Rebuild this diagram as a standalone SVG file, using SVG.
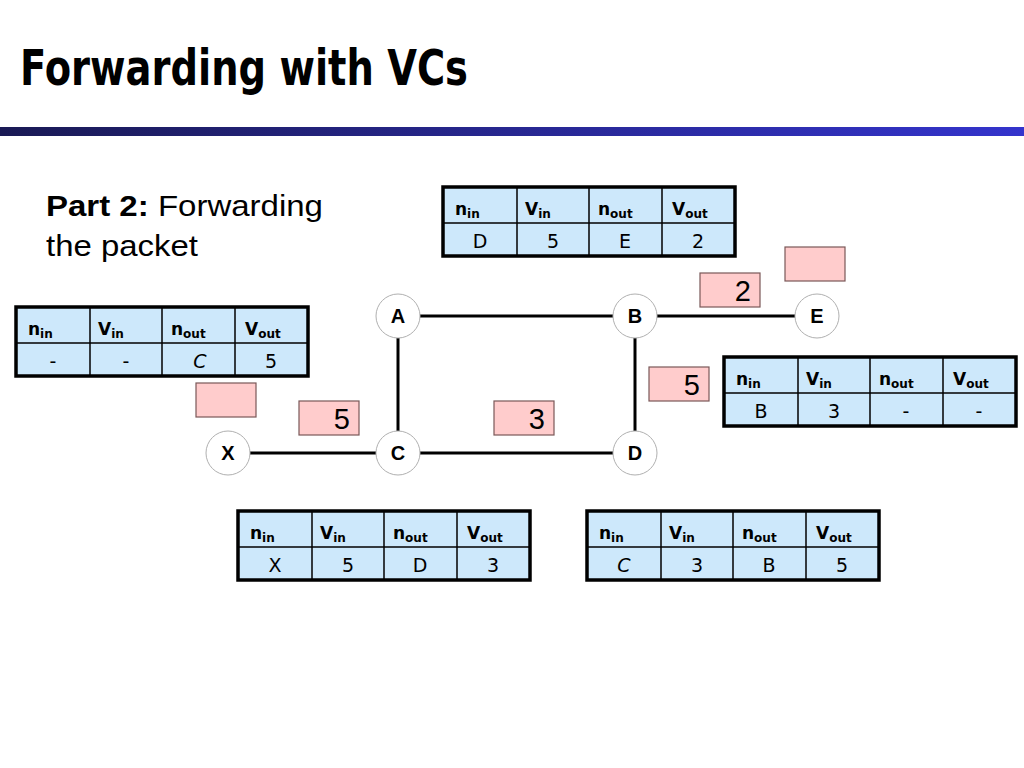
<svg xmlns="http://www.w3.org/2000/svg" xmlns:xlink="http://www.w3.org/1999/xlink" width="1024" height="768" viewBox="0 0 1024 768">
<style>
.title{font-family:"Comic Sans MS","DejaVu Sans",sans-serif;font-weight:bold;font-size:50px;fill:#000}
.part{font-family:"Liberation Sans",Arial,sans-serif;font-size:30px;fill:#000}
.hd{font-family:"Comic Sans MS","DejaVu Sans",sans-serif;font-size:17px;font-weight:bold;fill:#000}
.sub{font-size:12px}
.cell{font-family:"Comic Sans MS","DejaVu Sans",sans-serif;font-size:19px;fill:#000;text-anchor:middle}
.node circle{fill:#fff;stroke:#b0b0b0;stroke-width:1}
.node text{font-family:"Liberation Sans",Arial,sans-serif;font-weight:bold;font-size:20px;text-anchor:middle;fill:#000}
.lbl rect{fill:#ffcccc;stroke:#7a5858;stroke-width:1.2}
.lbl text{font-family:"Liberation Sans",Arial,sans-serif;font-size:29px;text-anchor:end;fill:#000}
.edge{stroke:#000;stroke-width:3;fill:none}
</style>
<defs>
<linearGradient id="bar" x1="0" y1="0" x2="1" y2="0">
<stop offset="0" stop-color="#1a1a55"/>
<stop offset="1" stop-color="#3434cc"/>
</linearGradient>
<g id="grid">
<rect x="0" y="0" width="292" height="69" fill="#cde8fb" stroke="none"/>
<g stroke="#000" stroke-width="1.5">
<line x1="74" y1="0" x2="74" y2="69"/>
<line x1="146" y1="0" x2="146" y2="69"/>
<line x1="219" y1="0" x2="219" y2="69"/>
<line x1="0" y1="36" x2="292" y2="36"/>
</g>
<rect x="0" y="0" width="292" height="69" fill="none" stroke="#000" stroke-width="3.5"/>
</g>
<g id="heads">
<text class="hd" x="12" y="28">n<tspan class="sub" dy="3">in</tspan></text>
<text class="hd" x="82" y="28">V<tspan class="sub" dy="3">in</tspan></text>
<text class="hd" x="155" y="28">n<tspan class="sub" dy="3">out</tspan></text>
<text class="hd" x="229" y="28">V<tspan class="sub" dy="3">out</tspan></text>
</g>
</defs>
<rect width="1024" height="768" fill="#fff"/>
<text class="title" x="20" y="85" textLength="448" lengthAdjust="spacingAndGlyphs">Forwarding with VCs</text>
<rect x="0" y="127" width="1024" height="9" fill="url(#bar)"/>
<text class="part" x="46" y="216" textLength="277" lengthAdjust="spacingAndGlyphs"><tspan font-weight="bold">Part 2:</tspan> Forwarding</text>
<text class="part" x="46" y="256" textLength="152" lengthAdjust="spacingAndGlyphs">the packet</text>

<g id="connectors">
<line class="edge" x1="420" y1="316" x2="613" y2="316"/>
<line class="edge" x1="657" y1="316" x2="795" y2="316"/>
<line class="edge" x1="398" y1="338" x2="398" y2="431"/>
<line class="edge" x1="635" y1="338" x2="635" y2="431"/>
<line class="edge" x1="250" y1="453" x2="376" y2="453"/>
<line class="edge" x1="420" y1="453" x2="613" y2="453"/>
</g>

<g id="node-A" class="node"><circle cx="398" cy="316" r="22"/><text x="398" y="323">A</text></g>
<g id="node-B" class="node"><circle cx="635" cy="316" r="22"/><text x="635" y="323">B</text></g>
<g id="node-E" class="node"><circle cx="817" cy="316" r="22"/><text x="817" y="323">E</text></g>
<g id="node-X" class="node"><circle cx="228" cy="453" r="22"/><text x="228" y="460">X</text></g>
<g id="node-C" class="node"><circle cx="398" cy="453" r="22"/><text x="398" y="460">C</text></g>
<g id="node-D" class="node"><circle cx="635" cy="453" r="22"/><text x="635" y="460">D</text></g>

<g id="label-empty-E" class="lbl"><rect x="785" y="247" width="60" height="34"/></g>
<g id="label-2" class="lbl"><rect x="700" y="273" width="60" height="34"/><text x="751" y="301">2</text></g>
<g id="label-5-BD" class="lbl"><rect x="649" y="367" width="60" height="34"/><text x="700" y="395">5</text></g>
<g id="label-empty-X" class="lbl"><rect x="196" y="383" width="60" height="34"/></g>
<g id="label-5-XC" class="lbl"><rect x="299" y="401" width="60" height="34"/><text x="350" y="429">5</text></g>
<g id="label-3-CD" class="lbl"><rect x="494" y="401" width="60" height="34"/><text x="545" y="429">3</text></g>

<g id="table-B" transform="translate(443,187)">
<use xlink:href="#grid"/><use xlink:href="#heads"/>
<text class="cell" x="37" y="61">D</text><text class="cell" x="110" y="61">5</text><text class="cell" x="182" y="61">E</text><text class="cell" x="255" y="61">2</text>
</g>
<g id="table-X" transform="translate(16,307)">
<use xlink:href="#grid"/><use xlink:href="#heads"/>
<text class="cell" x="37" y="61">-</text><text class="cell" x="110" y="61">-</text><text class="cell" x="184" y="61" font-style="italic">C</text><text class="cell" x="255" y="61">5</text>
</g>
<g id="table-E" transform="translate(724,357)">
<use xlink:href="#grid"/><use xlink:href="#heads"/>
<text class="cell" x="37" y="61">B</text><text class="cell" x="110" y="61">3</text><text class="cell" x="182" y="61">-</text><text class="cell" x="255" y="61">-</text>
</g>
<g id="table-C" transform="translate(238,511)">
<use xlink:href="#grid"/><use xlink:href="#heads"/>
<text class="cell" x="37" y="61">X</text><text class="cell" x="110" y="61">5</text><text class="cell" x="182" y="61">D</text><text class="cell" x="255" y="61">3</text>
</g>
<g id="table-D" transform="translate(587,511)">
<use xlink:href="#grid"/><use xlink:href="#heads"/>
<text class="cell" x="37" y="61" font-style="italic">C</text><text class="cell" x="110" y="61">3</text><text class="cell" x="182" y="61">B</text><text class="cell" x="255" y="61">5</text>
</g>
</svg>
